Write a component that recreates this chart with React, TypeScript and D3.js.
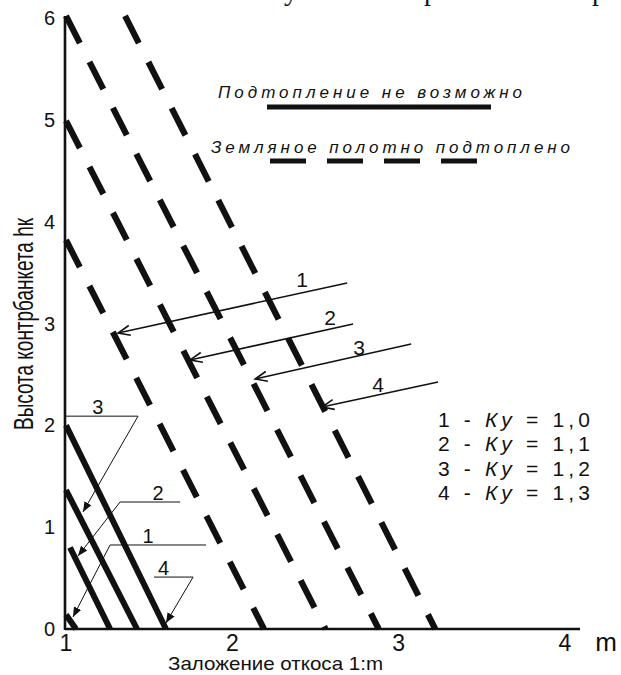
import React from "react";
import * as d3 from "d3";

type Pt = [number, number];

const W = 621;
const H = 675;
const FONT = "'Liberation Sans', Arial, sans-serif";

// axis ticks
const xTicks = [1, 2, 3, 4];
const yTicks = [0, 1, 2, 3, 4, 5, 6];

// Ку values, lines 1..4
const kyLabels = ["1", "2", "3", "4"];
const kyValues = ["1,0", "1,1", "1,2", "1,3"];

// "Подтопление не возможно" (solid), start/end in axis units (m, hк)
const safeLines: Pt[][] = [
  [[1, 0.14], [1.06, 0]],
  [[1.024, 0.8], [1.265, 0]],
  [[1, 1.365], [1.427, 0]],
  [[1, 2.0], [1.601, 0]],
];

// "Земляное полотно подтоплено" (dashed)
const floodLines: Pt[][] = [
  [[1, 3.82], [2.19, 0]],
  [[1, 4.99], [2.56, 0]],
  [[1, 6.02], [2.88, 0]],
  [[1.355, 6.02], [3.22, 0]],
];

// long arrows pointing at the dashed lines
const arrowStarts: Pt[] = [[2.69, 3.398], [2.726, 2.995], [3.075, 2.799], [3.237, 2.426]];
const arrowTips: Pt[] = [[1.313, 2.907], [1.746, 2.642], [2.137, 2.455], [2.539, 2.18]];
const arrowLabelPos: Pt[] = [[2.419, 3.359], [2.588, 2.985], [2.762, 2.691], [2.876, 2.327]];

// callouts pointing at the solid lines: far end of shelf, elbow, tip
const calloutNames = ["3", "2", "1", "4"];
const calloutPaths: Pt[][] = [
  [[0.994, 2.09], [1.433, 2.09], [1.102, 1.149]],
  [[1.686, 1.247], [1.325, 1.247], [1.072, 0.717]],
  [[1.842, 0.825], [1.265, 0.825], [1.042, 0.118]],
  [[1.529, 0.51], [1.764, 0.51], [1.601, 0.059]],
];
const calloutLabelX = [1.192, 1.553, 1.493, 1.586];

export default function App() {
  const x = d3.scaleLinear().domain([1, 4]).range([66, 565]);
  const y = d3.scaleLinear().domain([0, 6]).range([629, 18]);
  const line = d3
    .line<Pt>()
    .x((d) => x(d[0]))
    .y((d) => y(d[1]));

  return (
    <svg
      width={W}
      height={H}
      viewBox={`0 0 ${W} ${H}`}
      style={{ position: "absolute", left: 0, top: 0, background: "#fff" }}
      fontFamily={FONT}
    >
      <defs>
        <marker id="open" markerUnits="userSpaceOnUse" markerWidth="30" markerHeight="30"
          viewBox="-15 -15 30 30" refX="0" refY="0" orient="auto">
          <path d="M-12,-5 L0,0 L-12,5" fill="none" stroke="#111" strokeWidth="1.6" />
        </marker>
        <marker id="solid" markerUnits="userSpaceOnUse" markerWidth="20" markerHeight="20"
          viewBox="-10 -10 20 20" refX="0" refY="0" orient="auto">
          <path d="M-10,-4 L0,0 L-10,4 Z" fill="#111" />
        </marker>
      </defs>

      {/* cropped caption line above the figure */}
      <g fontFamily="'Liberation Serif', serif" fontSize="28" fill="#111">
        <text x={284} y={0}>у</text>
        <text x={424} y={0}>р</text>
        <text x={592} y={0}>р</text>
      </g>

      {/* flooded lines (dashed) */}
      {floodLines.map((pts, i) => (
        <path key={`f${i}`} d={line(pts) ?? ""} fill="none" stroke="#111"
          strokeWidth={6.2} strokeDasharray="30.5 21.1" />
      ))}

      {/* not possible lines (solid) */}
      {safeLines.map((pts, i) => (
        <path key={`s${i}`} d={line(pts) ?? ""} fill="none" stroke="#111" strokeWidth={6} />
      ))}

      {/* axes */}
      <line x1={x(1) - 1} x2={580} y1={y(0)} y2={y(0)} stroke="#111" strokeWidth={2.6} />
      <line x1={x(1) - 1} x2={x(1) - 1} y1={y(0) + 1} y2={16} stroke="#111" strokeWidth={2.6} />

      {xTicks.map((t) => (
        <text key={`xt${t}`} x={x(t)} y={651} fontSize={23} textAnchor="middle" fill="#111">
          {t}
        </text>
      ))}
      <text x={606} y={651} fontSize={26} textAnchor="middle" fill="#111">m</text>

      {yTicks.map((t) => (
        <text key={`yt${t}`} x={55} y={y(t) + 7} fontSize={20} textAnchor="end" fill="#111">
          {t}
        </text>
      ))}

      <text x={275.5} y={670} fontSize={19} textAnchor="middle" fill="#111"
        textLength={215} lengthAdjust="spacingAndGlyphs">
        Заложение откоса 1:m
      </text>
      <text transform="translate(33,324) rotate(-90)" fontSize={28} textAnchor="middle" fill="#111"
        textLength={212} lengthAdjust="spacingAndGlyphs">
        Высота контрбанкета hк
      </text>

      {/* long arrows */}
      {arrowStarts.map((s, i) => (
        <g key={`a${i}`}>
          <path d={line([s, arrowTips[i]]) ?? ""} stroke="#111" strokeWidth={1.6} fill="none"
            markerEnd="url(#open)" />
          <text x={x(arrowLabelPos[i][0])} y={y(arrowLabelPos[i][1])} fontSize={21}
            textAnchor="middle" fill="#111">
            {kyLabels[i]}
          </text>
        </g>
      ))}

      {/* callouts at solid lines */}
      {calloutPaths.map((pts, i) => (
        <g key={`c${i}`}>
          <path d={line(pts) ?? ""} stroke="#111" strokeWidth={1} fill="none"
            markerEnd="url(#solid)" />
          <text x={x(calloutLabelX[i])} y={y(pts[0][1]) - 2} fontSize={20}
            textAnchor="middle" fill="#111">
            {calloutNames[i]}
          </text>
        </g>
      ))}

      {/* legend: line styles */}
      <text x={218} y={98} fontSize={17} fontStyle="italic" fill="#111"
        textLength={304} lengthAdjust="spacing">
        Подтопление не возможно
      </text>
      <line x1={267} x2={491} y1={107} y2={107} stroke="#111" strokeWidth={5} />
      <text x={211} y={153} fontSize={17} fontStyle="italic" fill="#111"
        textLength={359} lengthAdjust="spacing">
        Земляное полотно подтоплено
      </text>
      <line x1={270} x2={477} y1={161} y2={161} stroke="#111" strokeWidth={5}
        strokeDasharray="36 21" />

      {/* legend: Ку */}
      {kyValues.map((v, i) => (
        <text key={`k${i}`} x={438} y={427 + i * 24.3} fontSize={21} fill="#111"
          textLength={152} lengthAdjust="spacing">
          {kyLabels[i]} - <tspan fontStyle="italic">Ку</tspan> = {v}
        </text>
      ))}
    </svg>
  );
}
